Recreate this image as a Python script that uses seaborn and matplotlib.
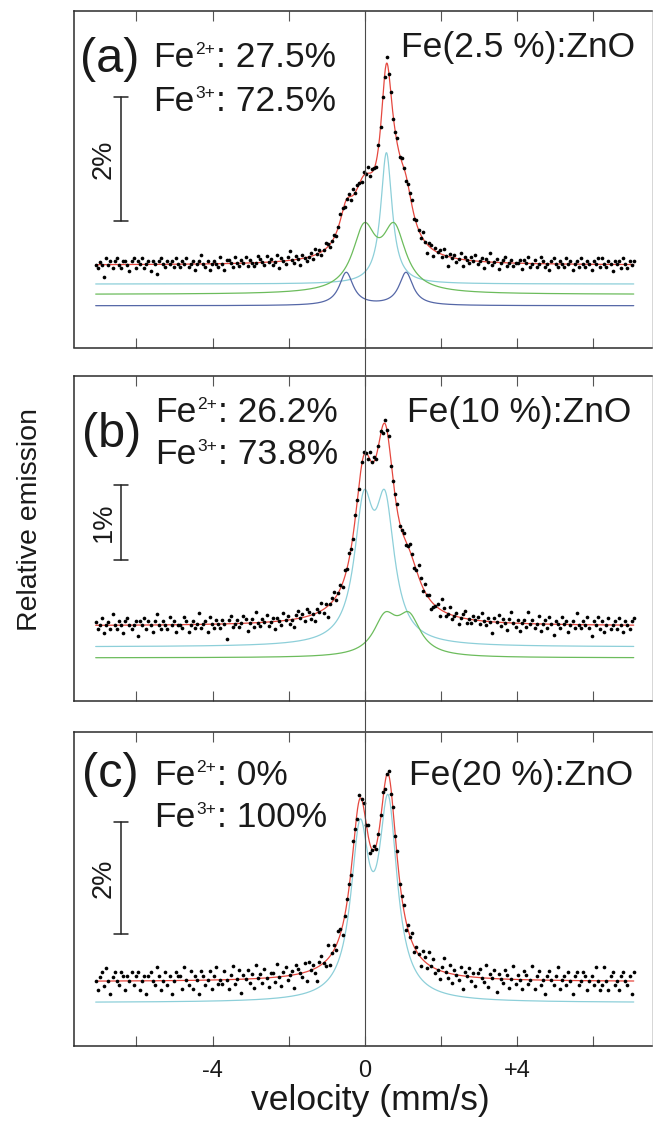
import numpy as np
import pandas as pd
import matplotlib
matplotlib.use("Agg")
import matplotlib.pyplot as plt
import matplotlib.transforms as mtransforms
from matplotlib.lines import Line2D
import seaborn as sns

sns.set_theme(style="white")
plt.rcParams["font.family"] = ["Liberation Sans", "DejaVu Sans"]

# ---------------------------------------------------------------- data
# velocity range of the measured channels (mm/s)
VEL_FIRST, VEL_LAST = -7.07, 7.06

PANEL_TAGS = ["(a)", "(b)", "(c)"]
SAMPLES = ["Fe(2.5 %):ZnO", "Fe(10 %):ZnO", "Fe(20 %):ZnO"]
FE2_SHARE = ["27.5%", "26.2%", "0%"]
FE3_SHARE = ["72.5%", "73.8%", "100%"]
SCALE_BAR_PCT = [2, 1, 2]

# Lorentzian sub-spectra: line positions (mm/s), half widths (mm/s),
# amplitudes (% relative emission) and vertical offset of each drawn component
A_SINGLET_POS, A_SINGLET_HW, A_SINGLET_AMP = [0.565], [0.18], [2.12]
A_DOUBLET1_POS, A_DOUBLET1_HW, A_DOUBLET1_AMP = [-0.02, 0.77], [0.37, 0.37], [0.98, 0.98]
A_DOUBLET2_POS, A_DOUBLET2_HW, A_DOUBLET2_AMP = [-0.49, 1.08], [0.22, 0.22], [0.53, 0.53]
A_OFFSETS = [-0.306, -0.473, -0.656]

B_FE3_POS, B_FE3_HW, B_FE3_AMP = [-0.03, 0.53], [0.30, 0.30], [1.72, 1.72]
B_FE2_POS, B_FE2_HW, B_FE2_AMP = [0.53, 1.16], [0.37, 0.37], [0.49, 0.49]
B_OFFSETS = [-0.283, -0.43]

C_FE3_POS, C_FE3_HW, C_FE3_AMP = [-0.13, 0.61], [0.29, 0.29], [2.83, 3.34]
C_OFFSETS = [-0.375]

# scatter of the measured points about the fit, in counting-noise steps
DEV_A = [0, -1, 1, 0, -4, 2, 0, 1, -1, 1, 2, 0, -1, 1, 1, 0, -2, 1, 2, -1,
         1, 0, 2, -1, 0, 1, -2, 1, 0, -3, 1, 2, 0, -1, 1, 0, 1, -1, 2, 0,
         -1, 1, 0, 2, -1, 0, 1, -2, 0, 1, 3, 0, -1, 1, -2, 0, 1, 0, -1, 2,
         0, -2, 1, 1, 0, -1, 2, 0, -1, 1, 0, 2, -1, 1, 0, -1, 0, 2, 1, 0,
         -1, 2, 0, 1, -1, 0, 2, -2, 1, 0, -1, 1, 3, 0, -1, 1, 0, -2, 1, 0,
         -1, 0, 1, -1, 2, 0, 1, -1, 0, 2, 1, -1, 0, 1, -1, 0, 2, 1, -1, 0,
         1, -1, 2, 0, 1, 0, -1, 1, 0, 2, -1, 1, 0, -2, 1, 0, 1, -1, 2, 0,
         1, -1, 0, 2, -1, 1, 0, -2, 0, 1, 2, -1, 1, 0, -1, 2, 0, -3, 1, 1,
         -2, 1, 0, 1, -1, 2, 0, -3, 1, 0, 1, -1, 0, 2, -2, 1, 0, -1, 1, 0,
         2, -1, 0, 1, -2, 1, 0, 3, -1, 0, 1, -2, 0, 1, 2, -1, 0, 1, -1, 0,
         0, 1, -2, 1, 0, 2, -1, 0, 1, -1, 0, 2, 1, -1, 0, -2, 1, 2, 0, -1,
         1, 0, -1, 2, 0, 1, -2, 0, 1, -1, 2, 0, -1, 1, 0, -2, 1, 0, 2, -1,
         2, 0, -1, 1, 0, -2, 1, 0, 1, -1, 2, 0, -1, 1, 0, 1]
DEV_B = [1, -1, 0, 2, -2, 0, 1, -1, 3, 0, -1, 1, 0, -2, 1, 2, 0, -1, 0, 1,
         -3, 1, 0, 2, -1, 1, 0, -2, 1, 3, 0, -1, 1, 0, -1, 2, 0, 1, -2, 0,
         0, -1, 2, 1, -2, 0, 1, -1, 0, 3, -1, 0, 1, -2, 2, 0, -1, 1, 0, -1,
         1, 0, -4, 1, 2, -1, 0, 1, -1, 0, 2, 1, -2, 0, 1, -1, 3, 0, -1, 1,
         0, 2, -1, 0, 1, -2, 1, 0, -1, 2, 0, 1, -1, 0, -2, 1, 2, 0, 1, -1,
         2, 1, -1, 0, -2, 1, 0, 2, -1, 1, -3, 0, 1, 2, -1, 0, 1, -1, 2, 0,
         2, 0, -1, 1, 0, -2, 1, 1, 0, -1, 2, 0, 1, -1, 0, 1, -2, 1, 0, 2,
         -1, 0, 1, 2, -1, 0, 1, -1, 0, 2, 1, -1, 0, 3, 1, -1, 2, 0, 1, -2,
         -1, 0, 1, -2, 3, 1, -1, 0, 2, -1, 0, 1, -2, 0, 1, 2, -1, 0, -1, 1,
         0, 1, -1, 2, 0, -1, 1, 0, -3, 1, 0, 2, -1, 1, 0, -2, 1, 3, 0, -1,
         1, -2, 0, 1, -1, 3, 0, 1, -1, 0, 2, -2, 0, 1, -1, 2, 0, -3, 1, 0,
         -1, 2, 0, 1, -2, 0, 1, -1, 3, 0, -1, 1, 0, 2, -1, -3, 1, 0, 2, -1,
         1, -2, 0, 2, -1, 0, 1, -1, 2, 0, -2, 1, 0, -1, 1, 2]
DEV_C = [0, -2, 1, 2, -1, 3, 0, -3, 1, 2, 0, -1, 2, 1, -2, 1, 0, 2, -1, 1,
         2, -2, 0, 1, -3, 1, 2, 0, -1, 3, 1, -2, 0, 2, -1, 1, -3, 0, 2, 1,
         1, -2, 3, 0, -1, 2, -2, 1, 0, -3, 2, 1, -1, 0, 2, -2, 1, 3, -1, 0,
         -1, 2, 0, -2, 1, 3, -1, 0, 2, -3, 1, 0, 2, -1, 1, -2, 3, 0, 1, -1,
         2, 0, -2, 1, 1, -1, 3, 0, -2, 1, 2, -1, 0, 1, -3, 2, 1, 0, -1, 2,
         -2, 2, 0, 1, -1, -3, 1, 2, 0, -1, 3, -2, 0, 1, -1, 2, 1, -2, 0, 1,
         1, -1, 2, 0, -2, 1, 0, 1, -1, 2, -2, 0, 1, -1, 0, 1, 2, -1, 0, 1,
         -1, 1, 0, 2, -1, 0, 1, -2, 1, 0, 2, -1, 1, 0, -2, 2, 1, -1, 3, 0,
         2, -1, 0, -2, 1, 3, 0, -1, 2, -2, 1, 0, -1, 2, -3, 1, 0, 2, -1, 1,
         -2, 1, 2, 0, -1, 3, -2, 1, 0, 2, -3, 1, 0, -1, 2, 1, -2, 0, 3, -1,
         1, 0, -2, 2, 1, -1, 0, 3, -2, 1, 2, -1, 0, -3, 1, 2, 0, -1, 1, 3,
         -2, 0, 1, -1, 2, 0, -3, 1, 2, -1, 0, 2, 1, -2, 0, 1, -1, 3, 0, -2,
         -1, 3, 0, -2, 1, 2, -1, 0, -2, 1, 2, 0, -1, 1, -3, 2]
NOISE_STEP = [0.05, 0.05, 0.08]

# ---------------------------------------------------------------- styles
RED, CYAN, GREEN, BLUE = "#e5483f", "#8dcfd9", "#6cbc5c", "#5567a7"
INK = "#1a1a1a"

panels = [
    dict(comps=[(A_SINGLET_POS, A_SINGLET_HW, A_SINGLET_AMP, CYAN),
                (A_DOUBLET1_POS, A_DOUBLET1_HW, A_DOUBLET1_AMP, GREEN),
                (A_DOUBLET2_POS, A_DOUBLET2_HW, A_DOUBLET2_AMP, BLUE)],
         offsets=A_OFFSETS, dev=DEV_A, ylim=(-1.33, 4.10), bar0=0.71),
    dict(comps=[(B_FE3_POS, B_FE3_HW, B_FE3_AMP, CYAN),
                (B_FE2_POS, B_FE2_HW, B_FE2_AMP, GREEN)],
         offsets=B_OFFSETS, dev=DEV_B, ylim=(-1.01, 3.36), bar0=0.89),
    dict(comps=[(C_FE3_POS, C_FE3_HW, C_FE3_AMP, CYAN)],
         offsets=C_OFFSETS, dev=DEV_C, ylim=(-1.15, 4.46), bar0=0.85),
]


def lorentz_sum(v, pos, hw, amp):
    out = np.zeros_like(v)
    for p, w, a in zip(pos, hw, amp):
        out += a / (1.0 + ((v - p) / w) ** 2)
    return out


W, H = 654, 1122
fig = plt.figure(figsize=(W / 100, H / 100), dpi=100)
left, width = 74 / W, 578 / W
# (top px, bottom px) of each frame
frames = [(11, 347.5), (376, 701), (732, 1046)]
XLIM = (-7.64, 7.54)

v_fine = np.linspace(VEL_FIRST, VEL_LAST, 1400)
axes = []
for i, (p, (top, bot)) in enumerate(zip(panels, frames)):
    ax = fig.add_axes([left, 1 - bot / H, width, (bot - top) / H])
    axes.append(ax)
    v_pts = np.linspace(VEL_FIRST, VEL_LAST, len(p["dev"]))

    total_fine = np.zeros_like(v_fine)
    total_pts = np.zeros_like(v_pts)
    for (pos, hw, amp, col), off in zip(p["comps"], p["offsets"]):
        comp = lorentz_sum(v_fine, pos, hw, amp)
        total_fine += comp
        total_pts += lorentz_sum(v_pts, pos, hw, amp)
        sns.lineplot(x=v_fine, y=comp + off, ax=ax, color=col, lw=0.9,
                     estimator=None, sort=False)
    sns.lineplot(x=v_fine, y=total_fine, ax=ax, color=RED, lw=0.9,
                 estimator=None, sort=False)
    measured = pd.DataFrame({"v": v_pts,
                             "y": total_pts + np.array(p["dev"]) * NOISE_STEP[i]})
    sns.scatterplot(data=measured, x="v", y="y", ax=ax, color="black", s=7,
                    linewidth=0, zorder=5)

    ax.set_xlim(*XLIM)
    ax.set_ylim(*p["ylim"])
    ax.set_xlabel("")
    ax.set_ylabel("")
    ax.set_yticks([])
    ax.set_xticks([-6, -4, -2, 0, 2, 4, 6])
    ax.tick_params(axis="x", direction="in", top=True, bottom=True,
                   length=7.2, width=0.8, color="#555555",
                   labelsize=17, pad=10, labelcolor=INK)
    for side in ["left", "top", "bottom"]:
        ax.spines[side].set_color("#2b2b2b")
        ax.spines[side].set_linewidth(1.1)
    ax.spines["right"].set_color("#d0d0d0")
    ax.spines["right"].set_linewidth(0.6)

    # intensity scale bar
    tr = mtransforms.blended_transform_factory(fig.transFigure, ax.transData)
    bx, cap = 121 / W, 7 / W
    y0, y1 = p["bar0"], p["bar0"] + SCALE_BAR_PCT[i]
    ax.plot([bx, bx], [y0, y1], transform=tr, color="#222222", lw=1.1)
    for yy in (y0, y1):
        ax.plot([bx - cap, bx + cap], [yy, yy], transform=tr,
                color="#222222", lw=1.1)
    ax.text(104 / W, (y0 + y1) / 2, f"{SCALE_BAR_PCT[i]}%", transform=tr,
            rotation=90, ha="center", va="center", fontsize=19.5, color=INK)

    if i < 2:
        ax.tick_params(axis="x", labelbottom=False)
    else:
        ax.set_xticklabels(["", "-4", "", "0", "", "+4", ""])


def ion_line(ax, x_px, base_px, charge, share, size=25.5, sup_size=12.5):
    """Write 'Fe<sup>charge</sup>: share' starting at a pixel position."""
    base = ax.text(x_px / W, 1 - base_px / H, "Fe", transform=fig.transFigure,
                   fontsize=size, color=INK, va="baseline", ha="left")
    sup = ax.annotate(charge, xy=(1, 1), xycoords=base, xytext=(0.6, -1.0),
                      textcoords="offset points", fontsize=sup_size, color=INK,
                      va="top", ha="left", annotation_clip=False)
    ax.annotate(": " + share, xy=(1, 0), xycoords=(sup, base),
                xytext=(0.4, 0), textcoords="offset points", fontsize=size,
                color=INK, va="bottom", ha="left", annotation_clip=False)


# panel annotations, positioned in pixels
tag_xy = [(80, 72), (82, 447), (82, 787)]
share_x = [153, 155, 154]
fe2_base = [67, 421.7, 785]
fe3_base = [111, 464, 826.7]
sample_xy = [(401, 57), (407, 421.7), (409, 785)]
for i, ax in enumerate(axes):
    fig.text(tag_xy[i][0] / W, 1 - tag_xy[i][1] / H, PANEL_TAGS[i],
             fontsize=35, color=INK, va="baseline")
    ion_line(ax, share_x[i], fe2_base[i], "2+", FE2_SHARE[i])
    ion_line(ax, share_x[i], fe3_base[i], "3+", FE3_SHARE[i])
    fig.text(sample_xy[i][0] / W, 1 - sample_xy[i][1] / H, SAMPLES[i],
             fontsize=25.5, color=INK, va="baseline")

# zero-velocity guide running through all three panels
zero_tr = mtransforms.blended_transform_factory(axes[2].transData, fig.transFigure)
fig.add_artist(Line2D([0, 0], [1 - 1046 / H, 1 - 11 / H], transform=zero_tr,
                      color="#4a4a4a", lw=0.8, zorder=10))

fig.text(370 / W, 1 - 1110 / H, "velocity (mm/s)", ha="center",
         fontsize=25.5, color=INK, va="baseline")
fig.text(30 / W, 1 - 520 / H, "Relative emission", rotation=90,
         ha="center", va="center", fontsize=20.5, color=INK)

fig.savefig("out.png", dpi=100)
